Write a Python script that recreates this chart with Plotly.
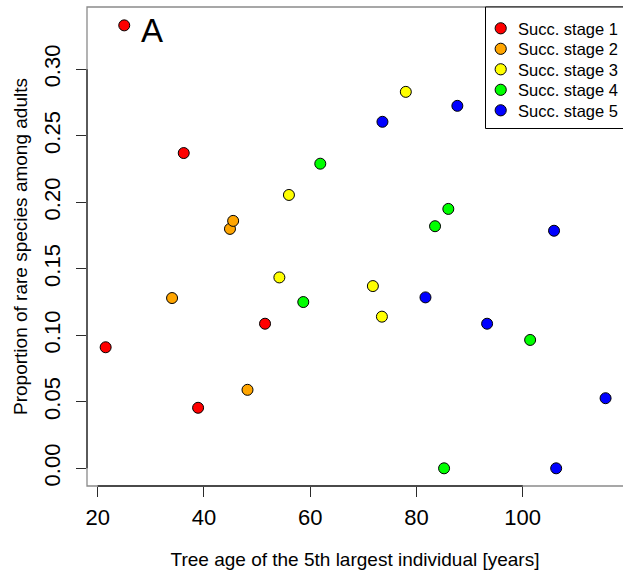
import plotly.graph_objects as go

# Tree age of the 5th largest individual [years] and proportion of rare species, per successional stage
stage_names = ["Succ. stage 1", "Succ. stage 2", "Succ. stage 3", "Succ. stage 4", "Succ. stage 5"]
stage_colors = ["#FF0000", "#FFA500", "#FFFF00", "#00FF00", "#0000FF"]

age_stage1 = [21.5, 25.0, 36.2, 38.9, 51.5]
rare_stage1 = [0.091, 0.333, 0.237, 0.0455, 0.1087]

age_stage2 = [34.0, 44.9, 45.5, 48.2]
rare_stage2 = [0.128, 0.180, 0.186, 0.059]

age_stage3 = [54.2, 56.0, 71.8, 73.5, 78.0]
rare_stage3 = [0.1435, 0.2055, 0.137, 0.114, 0.283]

age_stage4 = [58.7, 61.9, 83.5, 85.2, 86.0, 101.4]
rare_stage4 = [0.125, 0.229, 0.182, 0.0, 0.195, 0.0965]

age_stage5 = [73.6, 81.7, 87.7, 93.3, 105.9, 106.3, 115.6]
rare_stage5 = [0.2605, 0.1285, 0.2725, 0.1087, 0.1786, 0.0, 0.0527]

x_ticks = [20, 40, 60, 80, 100]
y_ticks = [0.00, 0.05, 0.10, 0.15, 0.20, 0.25, 0.30]

ages = [age_stage1, age_stage2, age_stage3, age_stage4, age_stage5]
rares = [rare_stage1, rare_stage2, rare_stage3, rare_stage4, rare_stage5]

FONT = "Liberation Sans, Arial, sans-serif"
DARK = "#2b2b2b"
BOX = "#8a8a8a"

W, H = 623, 581
ML, MR, MT, MB = 87, 0, 7, 95
PW, PH = W - ML - MR, H - MT - MB


def px_x(px):
    """Horizontal pixel position -> paper fraction of the plot area."""
    return (px - ML) / PW


def px_y(py):
    """Vertical pixel position (from top) -> paper fraction of the plot area."""
    return (H - MB - py) / PH


fig = go.Figure()
for name, color, xs, ys in zip(stage_names, stage_colors, ages, rares):
    fig.add_trace(go.Scatter(
        x=xs, y=ys, mode="markers", name=name, showlegend=False,
        marker=dict(size=11, color=color, line=dict(color="black", width=1)),
    ))

shapes = [
    # plot frame
    dict(type="rect", xref="paper", yref="paper", x0=0, x1=1.05, y0=0, y1=1,
         line=dict(color=BOX, width=1.3), layer="below"),
    # axis lines between first and last ticks
    dict(type="line", xref="x", yref="paper", x0=x_ticks[0], x1=x_ticks[-1], y0=0, y1=0,
         line=dict(color=DARK, width=1.3)),
    dict(type="line", xref="paper", yref="y", x0=0, x1=0, y0=y_ticks[0], y1=y_ticks[-1],
         line=dict(color=DARK, width=1.3)),
    # legend box (runs off the right edge)
    dict(type="rect", xref="paper", yref="paper", x0=px_x(485.5), x1=1.05,
         y0=px_y(128.5), y1=1, line=dict(color="black", width=1), fillcolor="white"),
]

annotations = [
    dict(text="A", xref="paper", yref="paper", x=px_x(151.7), y=px_y(30.8),
         xanchor="center", yanchor="middle", showarrow=False,
         font=dict(family=FONT, size=33, color="black")),
]

# legend entries: key circle and label
row0, row_step = 28.3, 20.5
for i, (name, color) in enumerate(zip(stage_names, stage_colors)):
    ry = row0 + i * row_step
    shapes.append(dict(
        type="circle", xref="paper", yref="paper",
        xsizemode="pixel", ysizemode="pixel",
        xanchor=px_x(500.7), yanchor=px_y(ry),
        x0=-5.6, x1=5.6, y0=-5.6, y1=5.6,
        fillcolor=color, line=dict(color="black", width=1),
    ))
    annotations.append(dict(
        text=name, xref="paper", yref="paper", x=px_x(515.5), y=px_y(ry + 0.5),
        xanchor="left", yanchor="middle", showarrow=False,
        font=dict(family=FONT, size=16.5, color="black"),
    ))

fig.update_layout(
    width=W, height=H,
    margin=dict(l=ML, r=MR, t=MT, b=MB, autoexpand=False),
    paper_bgcolor="white", plot_bgcolor="white",
    font=dict(family=FONT, color="black"),
    showlegend=False,
    xaxis=dict(
        range=[17.99, 118.88], tickvals=x_ticks, ticktext=[str(v) for v in x_ticks],
        showgrid=False, zeroline=False, showline=False,
        ticks="outside", ticklen=10, tickwidth=1.3, tickcolor=DARK,
        tickfont=dict(family=FONT, size=22, color="black"),
        ticklabelstandoff=2,
        title=dict(text="Tree age of the 5th largest individual [years]",
                   font=dict(family=FONT, size=19, color="black"), standoff=23),
    ),
    yaxis=dict(
        range=[-0.0133, 0.3468], tickvals=y_ticks, tickformat=".2f",
        showgrid=False, zeroline=False, showline=False,
        ticks="outside", ticklen=10, tickwidth=1.3, tickcolor=DARK,
        tickangle=-90, ticklabelstandoff=7,
        tickfont=dict(family=FONT, size=22, color="black"),
        title=dict(text="Proportion of rare species among adults",
                   font=dict(family=FONT, size=19, color="black"), standoff=7),
    ),
    shapes=shapes,
    annotations=annotations,
)

fig.write_html("out.html")
